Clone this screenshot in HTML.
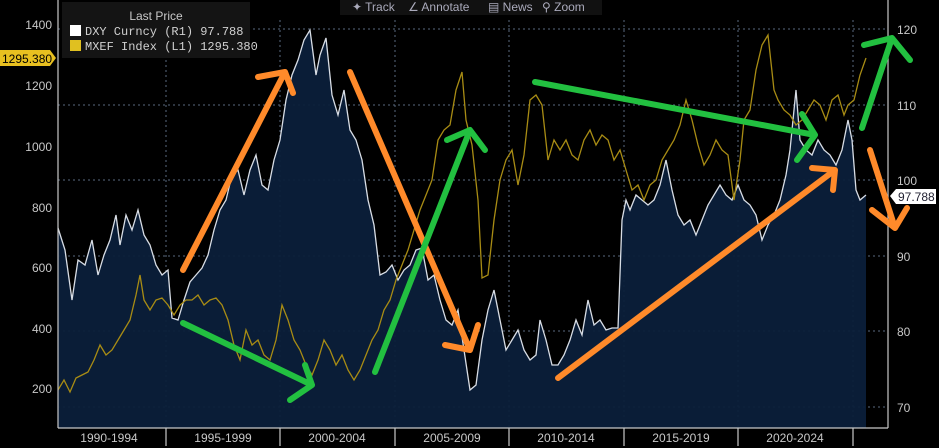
<!DOCTYPE html>
<html><head><meta charset="utf-8"><style>
html,body{margin:0;padding:0;background:#000;width:939px;height:448px;overflow:hidden}
svg{display:block;font-family:"Liberation Sans",sans-serif}
</style></head><body>
<svg width="939" height="448" viewBox="0 0 939 448">
<rect width="939" height="448" fill="#000"/>
<g stroke="#5a6a80" stroke-width="1" stroke-dasharray="2,3" fill="none">
<line x1="58" y1="29" x2="888" y2="29"/><line x1="58" y1="105" x2="888" y2="105"/>
<line x1="58" y1="180" x2="888" y2="180"/><line x1="58" y1="256" x2="888" y2="256"/>
<line x1="58" y1="331" x2="888" y2="331"/><line x1="58" y1="407" x2="888" y2="407"/>
<line x1="166" y1="20" x2="166" y2="428"/><line x1="280" y1="20" x2="280" y2="428"/>
<line x1="395" y1="20" x2="395" y2="428"/><line x1="509" y1="20" x2="509" y2="428"/>
<line x1="624" y1="20" x2="624" y2="428"/><line x1="738" y1="20" x2="738" y2="428"/>
<line x1="853" y1="20" x2="853" y2="428"/>
</g>
<path id="dxy" fill="#0b1f3a" fill-opacity="0.95" stroke="none" d="M58,428 L58,228 65,250 72,300 78,260 85,265 92,240 98,275 104,255 110,240 116,215 120,245 126,215 132,230 138,210 144,235 150,245 156,265 162,275 168,270 172,318 178,320 184,300 190,282 196,275 202,268 208,255 214,230 220,210 226,200 232,175 238,170 244,195 250,170 256,155 262,185 268,190 274,160 280,140 286,100 292,75 298,60 304,40 310,30 316,75 320,55 326,38 332,95 338,115 344,90 350,130 356,140 362,160 368,200 374,225 380,275 386,272 392,265 398,280 404,270 410,265 416,250 422,248 428,280 434,275 440,300 446,320 452,325 458,310 464,350 470,390 476,385 482,340 488,310 494,290 500,320 506,350 512,340 518,330 524,350 530,360 536,355 540,320 546,340 552,365 558,365 564,355 570,340 576,320 582,335 588,300 594,325 600,320 606,330 612,328 618,328 622,220 626,200 630,210 636,195 642,200 648,205 654,200 660,185 666,160 672,190 678,215 684,225 690,220 696,235 702,220 708,205 714,195 720,185 726,195 732,200 738,185 744,200 750,205 756,215 762,240 768,225 774,215 780,200 786,175 790,150 796,90 800,140 806,150 812,155 818,140 824,150 830,155 836,165 842,150 848,120 852,140 856,190 860,200 866,195 L866,428 Z"/>
<polyline fill="none" stroke="#d8dde5" stroke-width="1.3" points="58,228 65,250 72,300 78,260 85,265 92,240 98,275 104,255 110,240 116,215 120,245 126,215 132,230 138,210 144,235 150,245 156,265 162,275 168,270 172,318 178,320 184,300 190,282 196,275 202,268 208,255 214,230 220,210 226,200 232,175 238,170 244,195 250,170 256,155 262,185 268,190 274,160 280,140 286,100 292,75 298,60 304,40 310,30 316,75 320,55 326,38 332,95 338,115 344,90 350,130 356,140 362,160 368,200 374,225 380,275 386,272 392,265 398,280 404,270 410,265 416,250 422,248 428,280 434,275 440,300 446,320 452,325 458,310 464,350 470,390 476,385 482,340 488,310 494,290 500,320 506,350 512,340 518,330 524,350 530,360 536,355 540,320 546,340 552,365 558,365 564,355 570,340 576,320 582,335 588,300 594,325 600,320 606,330 612,328 618,328 622,220 626,200 630,210 636,195 642,200 648,205 654,200 660,185 666,160 672,190 678,215 684,225 690,220 696,235 702,220 708,205 714,195 720,185 726,195 732,200 738,185 744,200 750,205 756,215 762,240 768,225 774,215 780,200 786,175 790,150 796,90 800,140 806,150 812,155 818,140 824,150 830,155 836,165 842,150 848,120 852,140 856,190 860,200 866,195"/>
<polyline fill="none" stroke="#a88c14" stroke-width="1.3" points="58,390 64,380 70,392 76,378 82,375 88,372 94,360 100,345 106,355 112,350 118,340 124,330 130,320 136,295 140,275 144,300 150,310 156,300 162,298 168,305 174,315 180,305 186,300 192,300 198,295 204,305 210,300 216,298 222,305 228,320 234,345 240,360 246,330 252,345 258,340 264,355 270,360 276,340 282,305 288,320 294,340 300,350 306,365 312,375 318,360 324,340 330,350 336,365 342,355 348,370 354,380 360,370 366,355 372,340 378,330 384,310 390,300 396,280 402,265 408,250 414,230 420,210 426,195 432,180 438,140 444,130 450,125 456,90 462,72 466,120 472,145 478,200 482,278 488,275 494,220 500,180 506,160 512,150 518,185 524,155 530,100 536,95 542,105 548,160 554,140 560,150 566,140 572,155 578,160 584,140 590,130 596,145 602,135 608,140 614,160 620,150 626,170 632,190 638,185 644,200 650,185 656,180 662,160 668,150 674,140 680,125 686,100 692,120 698,145 704,165 710,155 716,140 722,150 728,155 734,200 740,160 744,120 750,110 756,70 762,45 768,35 774,90 778,100 784,110 790,115 796,125 802,120 808,110 814,100 820,105 826,120 832,100 838,95 844,115 848,105 854,100 860,75 866,58"/>
<!-- axes -->
<g stroke="#c8c8c8" stroke-width="1.2" fill="none">
<line x1="58" y1="0" x2="58" y2="428"/><line x1="888" y1="0" x2="888" y2="428"/>
<line x1="58" y1="428" x2="888" y2="428"/>
<line x1="166" y1="428" x2="166" y2="446"/><line x1="280" y1="428" x2="280" y2="446"/>
<line x1="395" y1="428" x2="395" y2="446"/><line x1="509" y1="428" x2="509" y2="446"/>
<line x1="624" y1="428" x2="624" y2="446"/><line x1="738" y1="428" x2="738" y2="446"/>
<line x1="853" y1="428" x2="853" y2="446"/>
</g>
<g fill="#c8c8c8" font-size="12">
<text x="52" y="29" text-anchor="end">1400</text><text x="52" y="90" text-anchor="end">1200</text>
<text x="52" y="151" text-anchor="end">1000</text><text x="52" y="212" text-anchor="end">800</text>
<text x="52" y="272" text-anchor="end">600</text><text x="52" y="333" text-anchor="end">400</text>
<text x="52" y="393" text-anchor="end">200</text>
<text x="897" y="34">120</text><text x="897" y="110">110</text><text x="897" y="185">100</text>
<text x="897" y="261">90</text><text x="897" y="336">80</text><text x="897" y="412">70</text>
<text x="109" y="442" text-anchor="middle">1990-1994</text><text x="223" y="442" text-anchor="middle">1995-1999</text>
<text x="337" y="442" text-anchor="middle">2000-2004</text><text x="452" y="442" text-anchor="middle">2005-2009</text>
<text x="566" y="442" text-anchor="middle">2010-2014</text><text x="681" y="442" text-anchor="middle">2015-2019</text>
<text x="795" y="442" text-anchor="middle">2020-2024</text>
</g>
<!-- value tags -->
<path d="M0,50 H50 L56,58 L50,66 H0 Z" fill="#e8c020"/>
<text x="2" y="63" font-size="12" fill="#000">1295.380</text>
<path d="M890,196 L896,189 H936 V204 H896 Z" fill="#fff"/>
<text x="898" y="201" font-size="12" fill="#223">97.788</text>
<!-- legend -->
<rect x="62" y="2" width="188" height="56" fill="#141414"/>
<text x="156" y="20" font-size="12" fill="#c8c8c8" text-anchor="middle">Last Price</text>
<rect x="70" y="25" width="11" height="11" fill="#fff"/>
<rect x="70" y="40" width="11" height="11" fill="#e0c020"/>
<g font-family="Liberation Mono,monospace" font-size="12" fill="#d0d0d0">
<text x="85" y="35">DXY Curncy  (R1)   97.788</text>
<text x="85" y="50">MXEF Index  (L1) 1295.380</text>
</g>
<!-- toolbar -->
<rect x="340" y="0" width="262" height="15" fill="#111"/>
<g font-size="12" fill="#aab">
<text x="352" y="11">✦ Track</text><text x="408" y="11">∠ Annotate</text>
<text x="488" y="11">▤ News</text><text x="542" y="11">⚲ Zoom</text>
</g>
<!-- arrows -->
<g fill="none" stroke-width="6" stroke-linecap="round" stroke-linejoin="round">
<g stroke="#ff8a2a">
<path d="M183,270 L285,72 M258,77 L285,72 L293,93"/>
<path d="M350,72 L470,350 M445,345 L470,350 L478,325"/>
<path d="M558,378 L835,170 M812,168 L835,170 L833,190"/>
<path d="M870,150 L895,228 M872,210 L895,228 L907,208"/>
</g>
<g stroke="#22c040">
<path d="M183,323 L312,385 M290,400 L312,385 L305,365"/>
<path d="M375,372 L470,130 M447,140 L470,130 L485,150"/>
<path d="M535,82 L815,135 M797,160 L815,135 L802,114"/>
<path d="M862,128 L892,38 M864,45 L892,38 L910,60"/>
</g>
</g>
</svg>
</body></html>
